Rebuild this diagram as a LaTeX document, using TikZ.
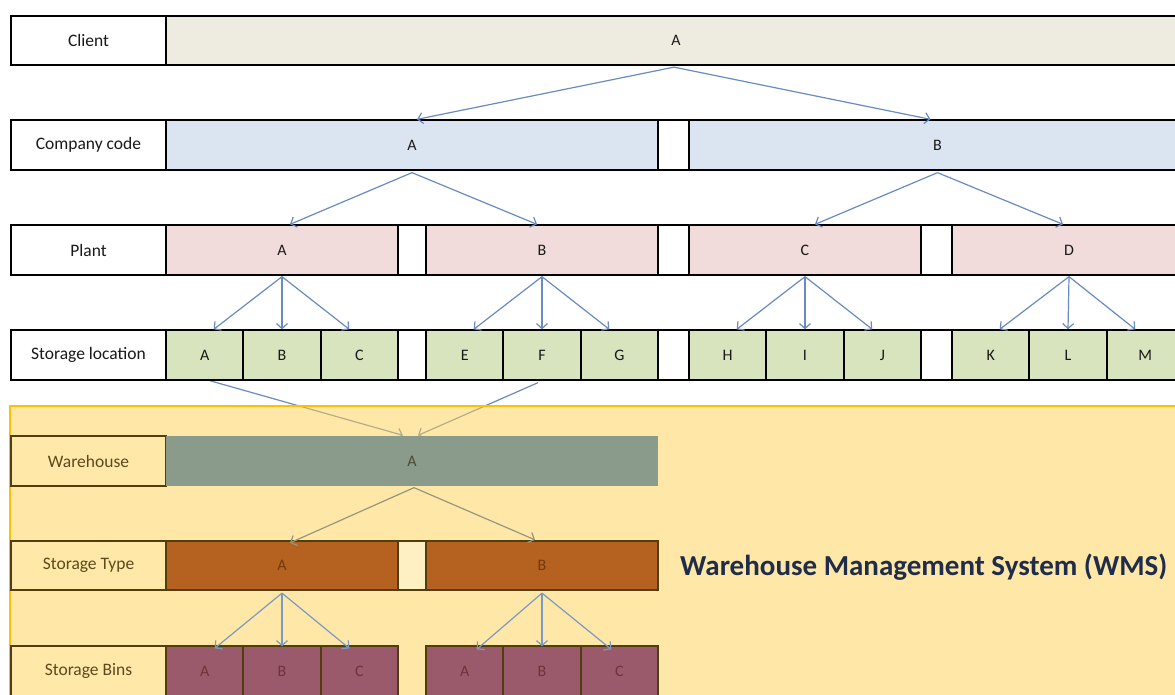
\documentclass[tikz,border=0pt]{standalone}
\usepackage{fontspec}
\setmainfont{Carlito}
\usetikzlibrary{arrows.meta,calc}
\pgfdeclarelayer{bg}
\pgfdeclarelayer{under}
\pgfdeclarelayer{tint}
\pgfsetlayers{bg,under,tint,main}
\definecolor{clientc}{HTML}{EEECE1}
\definecolor{compc}{HTML}{DBE5F1}
\definecolor{plantc}{HTML}{F2DCDB}
\definecolor{slocc}{HTML}{D7E4BD}
\definecolor{wmsfill}{HTML}{FFD151}
\definecolor{wmsbg}{HTML}{FFE8A8}
\definecolor{wmsgap}{HTML}{FFF0C4}
\definecolor{wmsborder}{HTML}{FFC000}
\definecolor{wmsline}{HTML}{523D0C}
\definecolor{wmstext}{HTML}{5A4A1C}
\definecolor{whc}{HTML}{8A9B8B}
\definecolor{whtext}{HTML}{4A4A34}
\definecolor{typec}{HTML}{B5611F}
\definecolor{typetext}{HTML}{74390C}
\definecolor{binc}{HTML}{9B5A6B}
\definecolor{bintext}{HTML}{6E3438}
\definecolor{arrblue}{HTML}{6A8BBE}
\definecolor{arrbin}{HTML}{7B9AC2}
\definecolor{arrgrey}{HTML}{96977A}
\definecolor{titlec}{HTML}{1F2D4A}
\begin{document}
\begin{tikzpicture}[x=1pt,y=-1pt,
  lbl/.style={draw=black, line width=1.8pt, fill=white, minimum height=49.5, minimum width=155, inner sep=0, font=\fontsize{17.5}{20}\selectfont, text=black!90},
  cell/.style={draw=black, line width=1.8pt, minimum height=49.5, inner sep=0, font=\fontsize{16}{18}\selectfont, text=black!90},
  gapbox/.style={draw=black, line width=1.8pt, fill=white, minimum height=49.5, inner sep=0},
  wlbl/.style={lbl, draw=wmsline, fill=wmsbg, text=wmstext},
  wcell/.style={cell, draw=wmsline},
  wgap/.style={gapbox, draw=wmsline, fill=wmsgap},
  arr/.style={-{Straight Barb[length=5pt,width=11pt]}, line width=1.2pt, draw=arrblue},
  arrb/.style={arr, draw=arrbin},
  arrg/.style={arr, draw=arrgrey}]
\useasboundingbox (0,0) rectangle (1175,695);
\clip (0,0) rectangle (1175,695);
\begin{pgfonlayer}{bg}
\fill[white] (0,0) rectangle (1175,695);
\end{pgfonlayer}

% Row 1: Client
\node[lbl] (l1) at (88.5,40.5) {Client};
\node[cell, fill=clientc, minimum width=1020] (cA) at (676,40.5) {A};

% Row 2: Company code
\node[lbl] (l2) at (88.5,145) {Company code};
\node[cell, fill=compc, minimum width=492] (coA) at (412,145) {A};
\node[gapbox, minimum width=31] (g2) at (673.5,145) {};
\node[cell, fill=compc, minimum width=497] (coB) at (937.5,145) {B};

% Row 3: Plant
\node[lbl] (l3) at (88.5,250) {Plant};
\node[cell, fill=plantc, minimum width=232] (pA) at (282,250) {A};
\node[gapbox, minimum width=28] (g3a) at (412,250) {};
\node[cell, fill=plantc, minimum width=232] (pB) at (542,250) {B};
\node[gapbox, minimum width=31] (g3b) at (673.5,250) {};
\node[cell, fill=plantc, minimum width=232] (pC) at (805,250) {C};
\node[gapbox, minimum width=31] (g3c) at (936.5,250) {};
\node[cell, fill=plantc, minimum width=234] (pD) at (1069,250) {D};

% Row 4: Storage location
\node[lbl] (l4) at (88.5,355) {Storage location};
\foreach \nm/\xx/\tx in {sA/204.7/A,sB/282/B,sC/359.3/C,sE/464.7/E,sF/542/F,sG/619.3/G,sH/727.7/H,sI/805/I,sJ/882.3/J,sK/990.7/K,sL/1068/L,sM/1145.3/M}{
  \node[cell, fill=slocc, minimum width=77.33] (\nm) at (\xx,355) {\tx};
}
\node[gapbox, minimum width=28] (g4a) at (412,355) {};
\node[gapbox, minimum width=31] (g4b) at (673.5,355) {};
\node[gapbox, minimum width=31] (g4c) at (936.5,355) {};

% WMS region (tinted overlay)
\begin{pgfonlayer}{tint}
\fill[wmsfill, fill opacity=0.5] (10,406) rectangle (1195,715);
\draw[wmsborder, line width=2.5pt] (10,715) -- (10,406) -- (1195,406);
\end{pgfonlayer}

% Row 5: Warehouse
\node[wlbl] (l5) at (88.5,461) {Warehouse};
\node[cell, draw=none, fill=whc, minimum width=492, text=whtext] (wA) at (412,461) {A};

% Row 6: Storage Type
\node[wlbl] (l6) at (88.5,565.5) {Storage Type};
\node[wcell, fill=typec, minimum width=232, text=typetext] (tA) at (282,565.5) {A};
\node[wgap, minimum width=28] (g6) at (412,565.5) {};
\node[wcell, fill=typec, minimum width=232, text=typetext] (tB) at (542,565.5) {B};

% Row 7: Storage Bins
\node[wlbl] (l7) at (88.5,671) {Storage Bins};
\node[wcell, fill=binc, minimum width=77.33, text=bintext] (bA1) at (204.7,671) {A};
\node[wcell, fill=binc, minimum width=77.33, text=bintext] (bB1) at (282,671) {B};
\node[wcell, fill=binc, minimum width=77.33, text=bintext] (bC1) at (359.3,671) {C};
\node[wcell, fill=binc, minimum width=77.33, text=bintext] (bA2) at (464.7,671) {A};
\node[wcell, fill=binc, minimum width=77.33, text=bintext] (bB2) at (542,671) {B};
\node[wcell, fill=binc, minimum width=77.33, text=bintext] (bC2) at (619.3,671) {C};

% Title
\node[anchor=west, inner sep=0, text=titlec, font=\fontsize{29}{33}\selectfont\bfseries] (wms) at (680,567) {Warehouse Management System (WMS)};

% Arrows
\draw[arr] ([xshift=-2pt,yshift=-1pt]cA.south) -- ([xshift=5pt]coA.north);
\draw[arr] ([xshift=-2pt,yshift=-1pt]cA.south) -- ([xshift=-7pt]coB.north);
\draw[arr] ([yshift=-2pt]coA.south) -- ([xshift=8pt]pA.north);
\draw[arr] ([yshift=-2pt]coA.south) -- ([xshift=-5pt]pB.north);
\draw[arr] ([yshift=-2pt]coB.south) -- ([xshift=10pt]pC.north);
\draw[arr] ([yshift=-2pt]coB.south) -- ([xshift=-6pt]pD.north);
\foreach \p/\a/\b/\c in {pA/sA/sB/sC,pB/sE/sF/sG,pC/sH/sI/sJ,pD/sK/sL/sM}{
  \draw[arr] ([yshift=-1pt]\p.south) -- ([xshift=9pt]\a.north);
  \draw[arr] ([yshift=-1pt]\p.south) -- (\b.north);
  \draw[arr] ([yshift=-1pt]\p.south) -- ([xshift=-10pt]\c.north);
}
\begin{pgfonlayer}{under}
\draw[arr] ([xshift=5pt]sA.south) -- ([xshift=-9pt]wA.north);
\draw[arr] ([xshift=-4pt,yshift=-2pt]sF.south) -- ([xshift=6pt]wA.north);
\end{pgfonlayer}
\draw[arrg] ([xshift=2pt,yshift=-1pt]wA.south) -- ([xshift=8pt,yshift=-3pt]tA.north);
\draw[arrg] ([xshift=2pt,yshift=-1pt]wA.south) -- ([xshift=-7pt]tB.north);
\draw[arrb] ([yshift=-2pt]tA.south) -- ([xshift=10pt,yshift=-3pt]bA1.north);
\draw[arrb] ([yshift=-2pt]tA.south) -- ([yshift=-1pt]bB1.north);
\draw[arrb] ([yshift=-2pt]tA.south) -- ([xshift=-10pt,yshift=-3pt]bC1.north);
\draw[arrb] ([yshift=-2pt]tB.south) -- ([xshift=12pt,yshift=-4pt]bA2.north);
\draw[arrb] ([yshift=-2pt]tB.south) -- ([yshift=-1pt]bB2.north);
\draw[arrb] ([yshift=-2pt]tB.south) -- ([xshift=-8pt,yshift=-4pt]bC2.north);
\end{tikzpicture}
\end{document}
